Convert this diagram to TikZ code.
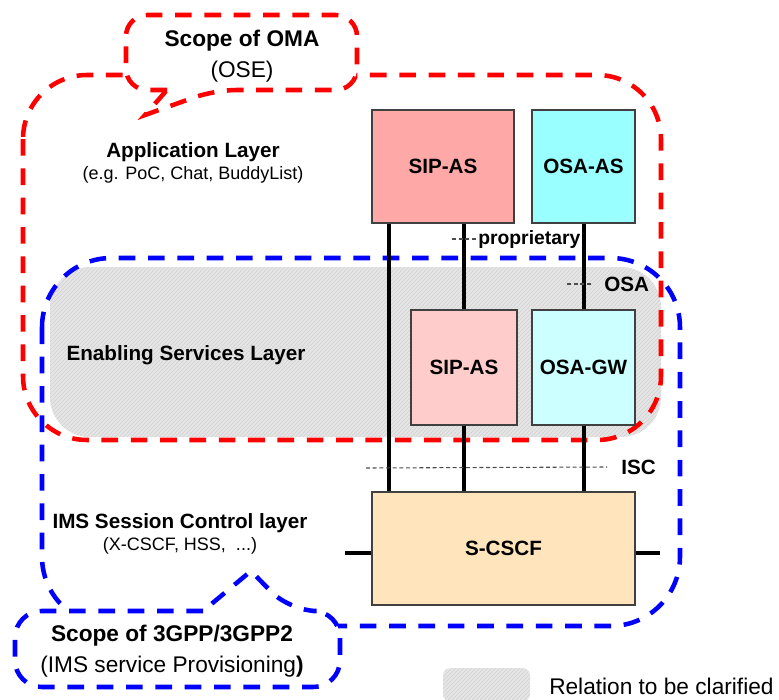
\documentclass[tikz,border=0pt]{standalone}
\usepackage{fontspec}
\setmainfont{Liberation Sans}
\usetikzlibrary{calc,patterns}

\definecolor{sippink}{HTML}{FFA8A8}
\definecolor{sippale}{HTML}{FFCCCC}
\definecolor{osacyan}{HTML}{99FFFF}
\definecolor{osapale}{HTML}{CCFFFF}
\definecolor{cscfsand}{HTML}{FFE4BC}

\tikzset{
    box/.style args={#1 by #2}{draw=black!75, line width=0.8pt, inner sep=0pt,
        minimum width=#1*0.75pt, minimum height=#2*0.75pt},
    label/.style={font=\fontsize{15.5}{18}\selectfont\bfseries},
    sublabel/.style={font=\fontsize{13.5}{17}\selectfont, align=center},
    scopetext/.style={font=\fontsize{17}{23}\selectfont, align=center},
    scopeline/.style={line width=3.4pt, dash pattern=on 12.5pt off 9.5pt},
    link/.style={line width=3pt},
    note/.style={draw=black!70, line width=0.8pt, dash pattern=on 3pt off 2pt},
    hatch/.style={fill=black!10, postaction={pattern=north east lines, pattern color=black!18}}
}

\begin{document}
\begin{tikzpicture}[x=0.75pt, y=-0.75pt]
    \useasboundingbox (0,0) rectangle (779,700);

    % unclear relation area
    \path[hatch, rounded corners=30] (50,267) rectangle (661,437);

    % OMA and 3GPP scopes
    \draw[scopeline, red, rounded corners=48] (23,75) rectangle (661,440);
    \draw[scopeline, blue, rounded corners=52] (42,258) rectangle (680,626);

    % boxes
    \node[box=142 by 113, fill=sippink, label] (sipas) at (443,166.5) {SIP-AS};
    \node[box=103 by 113, fill=osacyan, label] (osaas) at (583.5,166.5) {OSA-AS};
    \node[box=106 by 115, fill=sippale, label] (sipes) at (464,367.5) {SIP-AS};
    \node[box=103 by 115, fill=osapale, label] (osagw) at (583.5,367.5) {OSA-GW};
    \node[box=263 by 113, fill=cscfsand, label] (scscf) at (503.5,548.5) {S-CSCF};

    % interfaces
    \draw[link] ($(sipas.south west)+(18,0)$) coordinate (sipdown) -- (sipdown |- scscf.north);
    \draw[link] (sipes.north |- sipas.south) -- (sipes.north);
    \draw[link] (sipes.south) -- (sipes.south |- scscf.north);
    \draw[link] (osaas.south) -- (osagw.north);
    \draw[link] (osagw.south) -- (osagw.south |- scscf.north);
    \coordinate (cscfleft) at (345,553);
    \coordinate (cscfright) at (660,553);
    \draw[link] (cscfleft) -- (cscfleft -| scscf.west);
    \draw[link] (cscfright -| scscf.east) -- (cscfright);

    % interface names
    \node[label, anchor=west, inner sep=0pt, font=\fontsize{14.5}{17}\selectfont\bfseries] (prop) at (478,239) {proprietary};
    \node[label, anchor=west, inner sep=0pt] (osa) at (604,284) {OSA};
    \node[label, anchor=west, inner sep=0pt] (isc) at (621,467) {ISC};
    \coordinate (propstart) at (452,239);
    \coordinate (osastart) at (567,284);
    \coordinate (iscstart) at (366,468);
    \draw[note] (propstart) -- (prop.west);
    \draw[note] (osastart) -- ($(osa.west)+(-12,0)$);
    \draw[note] (iscstart) -- ($(isc.west)+(-14,0)$);

    % layer names
    \node[sublabel] (applayer) at (193,163) {\fontsize{15.5}{18}\selectfont\bfseries Application Layer\\(e.g. PoC, Chat, BuddyList)};
    \node[label] (enabling) at (186,355) {Enabling Services Layer};
    \node[sublabel] (imslayer) at (180,534) {\fontsize{15.5}{18}\selectfont\bfseries IMS Session Control layer\\(X-CSCF, HSS,\ \ ...)};

    % scope callouts
    \draw[scopeline, red, fill=white, rounded corners=16]
        (167,90) -- (126,90) -- (126,15) -- (357,15) -- (357,90) -- (215,90)
        [sharp corners] -- (145,115) -- cycle;
    \node[scopetext] (omascope) at (242,56) {\textbf{Scope of OMA}\\(OSE)};
    \draw[scopeline, blue, fill=white, rounded corners=20]
        (203,611) -- (15,611) -- (15,687) -- (340,687) -- (340,611) -- (290,611)
        [sharp corners] -- (251,571) -- cycle;
    \node[scopetext] (gppscope) at (172,651) {\textbf{Scope of 3GPP/3GPP2}\\(IMS service Provisioning\textbf{)}};

    % legend
    \path[hatch, rounded corners=6] (443,668) rectangle (530,702);
    \node[scopetext, anchor=west, inner sep=0pt] (legend) at (549,686) {Relation to be clarified};
\end{tikzpicture}
\end{document}
